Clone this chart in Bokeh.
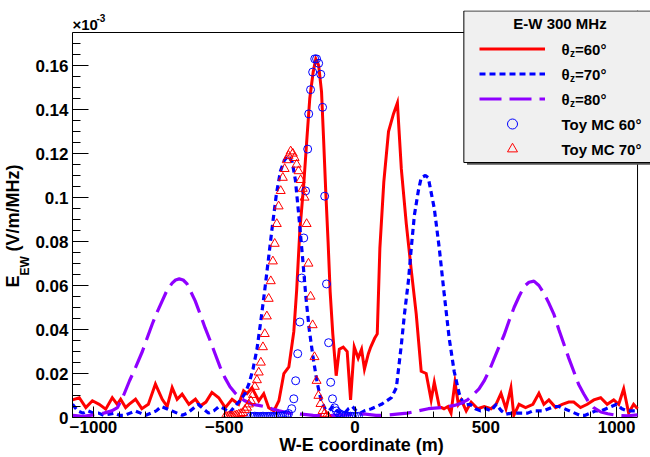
import math
from bokeh.plotting import figure
from bokeh.models import (Range1d, SingleIntervalTicker, NumeralTickFormatter, FixedTicker,
                          LinearAxis, Legend, LegendItem, Label, Span, BoxAnnotation)
from bokeh.embed import file_html
from bokeh.resources import INLINE

# ---------------- data (E field, units of 1e-3 V/m/MHz) ----------------
# theta_z = 60 deg (red solid)
x60 = [-1080, -1054, -1029, -1004, -978, -953, -928, -909, -896, -877, -864, -839, -815, -790,
       -763, -737, -718, -699, -680, -661, -635, -610, -591, -570, -547, -521, -496, -470, -445,
       -426, -413, -394, -368, -349, -330, -310, -291, -272, -253, -234, -223, -211, -196, -185,
       -173, -160, -150, -139, -128, -120, -112, -103, -95, -85, -72, -60, -45, -30, -17, -3, 12,
       25, 36, 51, 60, 75, 85, 95, 110, 128, 147, 162, 177, 196, 215, 234, 253, 272, 291, 303,
       322, 340, 355, 367, 382, 395, 406, 425, 444, 469, 494, 520, 539, 558, 577, 596, 607, 627,
       652, 680, 703, 722, 741, 767, 792, 817, 836, 862, 888, 913, 939, 964, 989, 1008, 1027,
       1046, 1065, 1080]
e60 = [0.008, 0.009, 0.0045, 0.0076, 0.006, 0.0038, 0.009, 0.006, 0.0083, 0.0045, 0.006, 0.0083,
       0.004, 0.006, 0.0152, 0.0083, 0.005, 0.0136, 0.0083, 0.0106, 0.006, 0.0083, 0.0053, 0.007,
       0.0114, 0.009, 0.0045, 0.0083, 0.006, 0.0121, 0.0108, 0.0135, 0.0076, 0.0108, 0.0044,
       0.003, 0.0076, 0.020, 0.023, 0.039, 0.058, 0.085, 0.106, 0.125, 0.145, 0.157, 0.163,
       0.160, 0.148, 0.126, 0.103, 0.080, 0.057, 0.038, 0.019, 0.031, 0.032, 0.030, 0.008, 0.032,
       0.027, 0.031, 0.022, 0.029, 0.032, 0.036, 0.038, 0.077, 0.107, 0.130, 0.138, 0.143, 0.113,
       0.088, 0.067, 0.047, 0.021, 0.020, 0.008, 0.016, 0.005, 0.004, 0.005, 0.002, 0.016, 0.006,
       0.008, 0.003, 0.007, 0.004, 0.005, 0.004, 0.006, 0.011, 0.004, 0.0135, 0.001, 0.006,
       0.0045, 0.006, 0.011, 0.006, 0.008, 0.0045, 0.006, 0.007, 0.007, 0.0045, 0.006, 0.008,
       0.009, 0.006, 0.008, 0.006, 0.013, 0.002, 0.006, 0.004]

# theta_z = 70 deg (blue dotted)
x70 = [-1080, -1060, -1040, -1020, -1000, -980, -960, -940, -920, -900, -880, -860, -840, -820,
       -800, -780, -760, -740, -720, -700, -680, -660, -640, -620, -600, -580, -560, -540, -520,
       -500, -480, -460, -440, -420, -405, -390, -375, -360, -345, -330, -315, -300, -285, -270,
       -255, -240, -228, -215, -200, -188, -175, -160, -145, -130, -115, -100, -85, -70, -55,
       -40, -25, -10, 5, 20, 36, 63, 101, 139, 158, 177, 189, 204, 215, 227, 242, 253, 269, 280,
       303, 322, 341, 360, 379, 398, 417, 440, 460, 480, 500, 520, 540, 560, 577, 600, 620, 640,
       660, 680, 700, 720, 740, 760, 780, 800, 820, 840, 860, 880, 900, 920, 940, 960, 980, 1000,
       1020, 1040, 1060, 1080]
e70 = [0.006, 0.003, 0.002, 0.003, 0.002, 0.002, 0.001, 0.0015, 0.002, 0.001, 0.001, 0.002,
       0.003, 0.002, 0.001, 0.002, 0.003, 0.005, 0.004, 0.003, 0.002, 0.001, 0.002, 0.004, 0.006,
       0.004, 0.002, 0.003, 0.005, 0.004, 0.002, 0.005, 0.0076, 0.011, 0.0155, 0.022, 0.031,
       0.044, 0.058, 0.073, 0.088, 0.102, 0.112, 0.117, 0.119, 0.116, 0.108, 0.092, 0.072, 0.055,
       0.040, 0.027, 0.016, 0.008, 0.004, 0.003, 0.005, 0.003, 0.002, 0.002, 0.004, 0.005, 0.003,
       0.002, 0.003, 0.004, 0.006, 0.009, 0.0135, 0.033, 0.047, 0.062, 0.077, 0.092, 0.103, 0.109,
       0.110, 0.109, 0.095, 0.077, 0.056, 0.036, 0.021, 0.011, 0.0055, 0.006, 0.004, 0.003, 0.004,
       0.003, 0.006, 0.003, 0.0015, 0.002, 0.002, 0.002, 0.002, 0.003, 0.003, 0.003, 0.004, 0.005,
       0.005, 0.004, 0.003, 0.002, 0.001, 0.001, 0.002, 0.003, 0.003, 0.004, 0.005, 0.006, 0.004,
       0.003, 0.003, 0.003]

# theta_z = 80 deg (violet long dash)
x80 = [-1080, -1040, -1000, -960, -930, -908, -885, -862, -838, -813, -795, -775, -756, -737,
       -718, -699, -686, -672, -657, -642, -627, -611, -592, -573, -554, -535, -516, -497, -478,
       -459, -440, -421, -394, -368, -340, -318, -290, -253, -204, -160, -120, -80, -40, 0, 40,
       80, 120, 160, 200, 242, 280, 330, 356, 380, 406, 430, 455, 474, 493, 512, 531, 550, 570,
       589, 608, 627, 646, 665, 684, 703, 722, 741, 760, 779, 798, 817, 836, 855, 874, 893, 912,
       940, 966, 1000, 1042, 1080]
e80 = [0.001, 0.0005, 0.0012, 0.002, 0.003, 0.0045, 0.010, 0.0167, 0.023, 0.030, 0.036, 0.0425,
       0.048, 0.053, 0.058, 0.0611, 0.0625, 0.063, 0.0625, 0.0607, 0.057, 0.053, 0.047, 0.0407,
       0.035, 0.029, 0.023, 0.018, 0.014, 0.0112, 0.009, 0.0076, 0.006, 0.0055, 0.0048, 0.004,
       0.003, 0.002, 0.0015, 0.001, 0.0008, 0.001, 0.0012, 0.0015, 0.0015, 0.001, 0.001, 0.0015,
       0.002, 0.003, 0.004, 0.0045, 0.005, 0.0055, 0.0065, 0.008, 0.0108, 0.013, 0.0165, 0.021,
       0.0265, 0.032, 0.0375, 0.044, 0.050, 0.055, 0.0595, 0.0615, 0.062, 0.060, 0.0565, 0.052,
       0.047, 0.040, 0.0335, 0.027, 0.021, 0.015, 0.0108, 0.007, 0.0045, 0.0025, 0.0017, 0.001,
       0.0008, 0.0012]

# Toy MC 60 deg (blue open circles)
xmc60 = [-398, -390, -383, -375, -368, -360, -352, -345, -337, -330, -322, -314, -307, -299,
         -292, -284, -276, -269, -261, -254, -242, -234, -227, -219, -211, -204, -196, -189,
         -181, -177, -170, -162, -154, -147, -139, -131, -124, -116, -109, -101, -93, -86, -78,
         -71, -63, -55, -48, -40, -33, -25, -17, -10, -2, 6, 13]
emc60 = [0.0005, 0.0004, 0.0006, 0.0005, 0.0004, 0.0005, 0.0006, 0.0004, 0.0005, 0.0005, 0.0006,
         0.0005, 0.0004, 0.0005, 0.0006, 0.0007, 0.0008, 0.001, 0.0012, 0.0018, 0.004, 0.0085,
         0.0167, 0.029, 0.0434, 0.0634, 0.0816, 0.103, 0.122, 0.138, 0.149, 0.157, 0.163, 0.163,
         0.161, 0.156, 0.141, 0.1006, 0.0607, 0.034, 0.016, 0.0085, 0.0044, 0.003, 0.002, 0.0015,
         0.001, 0.0008, 0.0008, 0.0006, 0.0006, 0.0005, 0.0005, 0.0005, 0.0005]

# Toy MC 70 deg (red open triangles)
xmc70 = [-497, -490, -482, -474, -467, -459, -452, -444, -436, -429, -421, -413, -406, -398,
         -390, -383, -375, -368, -360, -352, -345, -337, -330, -322, -314, -307, -299, -292,
         -284, -276, -269, -261, -254, -246, -238, -231, -223, -216, -208, -200, -193, -185,
         -178, -170, -162, -155, -147, -140, -132, -124, -117, -109, -102]
emc70 = [0.0003, 0.0004, 0.0005, 0.0006, 0.0005, 0.0008, 0.001, 0.0014, 0.0017, 0.0021, 0.0035,
         0.0045, 0.006, 0.0075, 0.0103, 0.014, 0.017, 0.0205, 0.025, 0.032, 0.038, 0.046, 0.054,
         0.062, 0.071, 0.079, 0.088, 0.096, 0.103, 0.109, 0.113, 0.117, 0.119, 0.121, 0.120,
         0.118, 0.115, 0.112, 0.108, 0.104, 0.100, 0.088, 0.070, 0.055, 0.042, 0.0275, 0.0167,
         0.0099, 0.0062, 0.003, 0.0017, 0.0008, 0.0003]

FONT = "Liberation Sans"
XMIN, XMAX = -1080, 1080
YMIN, YMAX = 0.0, 0.175

# frame extended right/up so the legend box and the exponent fit inside it
p = figure(width=650, height=457, x_range=Range1d(XMIN, 1129.52), y_range=Range1d(YMIN, 0.185),
           output_backend="svg", toolbar_location=None, title=None,
           min_border_left=70, min_border_right=0, min_border_top=10, min_border_bottom=40)
p.background_fill_color = "white"
p.border_fill_color = "white"
p.outline_line_color = None
p.grid.visible = False

p.xaxis.ticker = SingleIntervalTicker(interval=500, num_minor_ticks=5)
p.yaxis.ticker = SingleIntervalTicker(interval=0.02, num_minor_ticks=4)
p.yaxis.formatter = NumeralTickFormatter(format="0.[00]")
p.xaxis.bounds = (XMIN, XMAX)
p.yaxis.bounds = (YMIN, YMAX)
for ax, tin, mtin in ((p.xaxis, 11, 6), (p.yaxis, 16, 8)):
    ax.axis_line_color = "black"
    ax.axis_line_width = 1
    ax.major_tick_in = tin
    ax.major_tick_out = 0
    ax.minor_tick_in = mtin
    ax.minor_tick_out = 0
    ax.major_tick_line_color = "black"
    ax.minor_tick_line_color = "black"
    ax.major_label_text_font = FONT
    ax.major_label_text_font_style = "bold"
    ax.major_label_text_font_size = "17px"
    ax.major_label_text_color = "black"
p.xaxis.major_label_standoff = 3
p.yaxis.major_label_standoff = 4
p.xaxis.axis_label = "W-E coordinate (m)"
p.xaxis.axis_label_text_font = FONT
p.xaxis.axis_label_text_font_style = "bold"
p.xaxis.axis_label_text_font_size = "18px"
p.xaxis.axis_label_text_color = "black"
p.xaxis.axis_label_standoff = -1

# y-axis title "E_EW (V/m/MHz)" built from two label-only axes (subscript on the inner one)
yE, yEW, yV = 0.0618, 0.0689, 0.0952


def title_axis(ticks, texts, size, standoff):
    ax = LinearAxis(ticker=FixedTicker(ticks=ticks),
                    major_label_overrides=dict(zip(ticks, texts)),
                    major_label_orientation="vertical",
                    major_label_text_font=FONT, major_label_text_font_style="bold",
                    major_label_text_font_size=size, major_label_text_color="black",
                    axis_line_color=None, major_tick_line_color=None, minor_tick_line_color=None,
                    major_tick_in=0, major_tick_out=0)
    try:
        ax.major_label_standoff = standoff
    except Exception:
        ax.major_label_standoff = 0
    p.add_layout(ax, "left")
    return ax


title_axis([yEW], ["EW"], "12px", 0)
title_axis([yE, yV], ["E", "(V/m/MHz)"], "18px", -8)

# frame edges (top and right)
p.add_layout(Span(location=YMAX, dimension="width", line_color="black", line_width=1,
                  level="underlay"))
p.add_layout(Span(location=XMAX, dimension="height", line_color="black", line_width=1,
                  level="underlay"))

r60 = p.line(x60, e60, line_color="#ff0000", line_width=3, line_join="miter")
r70 = p.line(x70, e70, line_color="#0000ff", line_width=3.2, line_dash="6 4")
r80 = p.line(x80, e80, line_color="#8f00ff", line_width=3.2, line_dash="22 8")
s60 = p.scatter(xmc60, emc60, marker="circle", size=8, fill_color=None,
                line_color="#0000ff", line_width=1)
s70 = p.scatter(xmc70, emc70, marker="triangle", size=9, fill_color=None,
                line_color="#ff0000", line_width=1)

# legend box with a thin shadow along its bottom
p.add_layout(BoxAnnotation(left=428.0, right=1300, bottom=0.1149, top=0.1165,
                           fill_color="#555555", fill_alpha=1, line_color=None))
p.add_layout(BoxAnnotation(left=416.0, right=1300, bottom=0.1159, top=0.1848,
                           fill_color="#f0f0f0", fill_alpha=1,
                           line_color="black", line_width=1, line_alpha=1))

legend = Legend(items=[LegendItem(label=" ", renderers=[r]) for r in (r60, r70, r80, s60, s70)],
                location=(407, 256), glyph_width=66, glyph_height=25, label_height=25,
                label_width=0, label_standoff=0, spacing=0, padding=0, margin=0,
                border_line_color=None, background_fill_alpha=0,
                label_text_font_size="15px", label_text_font=FONT)
p.add_layout(legend, "center")


def lab(text, x, y, size, baseline="middle", align="left"):
    p.add_layout(Label(x=x, y=y, x_units="screen", y_units="screen", text=text,
                       text_font=FONT, text_font_style="bold", text_font_size=size,
                       text_baseline=baseline, text_align=align, text_color="black",
                       level="overlay"))


# legend texts
lab("E-W 300 MHz", 487.5, 393.7, "15px", align="center")
rows = [368.5, 343.5, 318.5, 293.5, 268.5]
for yy, deg in zip(rows[:3], ("=60°", "=70°", "=80°")):
    lab("θ", 489, yy, "15px")
    lab("z", 497.5, yy - 4.5, "10px")
    lab(deg, 502.5, yy, "15px")
lab("Toy MC 60°", 489, rows[3], "15px")
lab("Toy MC 70°", 489, rows[4], "15px")

# exponent above the y axis
lab("×10", 0, 393, "15px")
lab("-3", 24, 399.5, "10px")

open("out.html", "w").write(file_html(p, INLINE))
